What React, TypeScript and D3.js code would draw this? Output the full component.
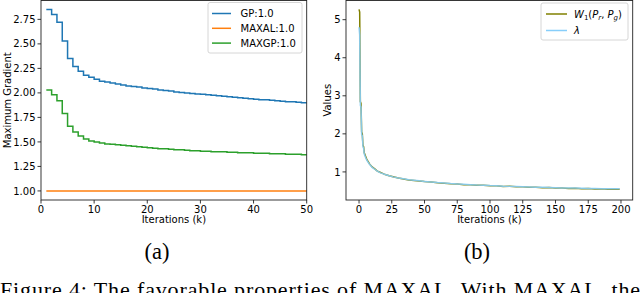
import * as d3 from "d3";

// panel (a): max gradient per k, drawn as steps
const aIters = d3.range(1, 51);
const gpValues = [
  2.85, 2.8, 2.72, 2.53, 2.35, 2.27, 2.22, 2.18, 2.16, 2.14,
  2.12, 2.11, 2.1, 2.09, 2.08, 2.07, 2.065, 2.06, 2.05, 2.045,
  2.04, 2.03, 2.025, 2.02, 2.01, 2.005, 2.0, 1.995, 1.99, 1.985,
  1.98, 1.975, 1.97, 1.965, 1.96, 1.955, 1.95, 1.945, 1.94, 1.935,
  1.93, 1.93, 1.925, 1.92, 1.915, 1.91, 1.91, 1.905, 1.9, 1.9,
];
const maxalValues = aIters.map(() => 1.0);
const maxgpValues = [
  2.03, 1.98, 1.92, 1.79, 1.66, 1.6, 1.56, 1.53, 1.51, 1.5,
  1.49, 1.48, 1.475, 1.47, 1.465, 1.46, 1.455, 1.45, 1.445, 1.44,
  1.435, 1.43, 1.43, 1.425, 1.42, 1.42, 1.415, 1.41, 1.41, 1.405,
  1.405, 1.4, 1.4, 1.4, 1.395, 1.395, 1.39, 1.39, 1.39, 1.385,
  1.385, 1.385, 1.38, 1.38, 1.38, 1.375, 1.375, 1.375, 1.37, 1.37,
];
const aSeries = [
  { name: "GP:1.0", color: "#1f77b4", values: gpValues },
  { name: "MAXAL:1.0", color: "#ff7f0e", values: maxalValues },
  { name: "MAXGP:1.0", color: "#2ca02c", values: maxgpValues },
];
const aXTicks = [0, 10, 20, 30, 40, 50];
const aYTicks = [1.0, 1.25, 1.5, 1.75, 2.0, 2.25, 2.5, 2.75];

// panel (b): W1 estimate and lambda
const bIters = [
  0, 0.5, 1, 1.5, 2, 2.5, 3, 3.5, 4, 5, 6, 7, 8, 10, 12, 14, 16, 18, 20,
  23, 26, 30, 34, 38, 42, 46, 50, 55, 60, 65, 70, 75, 80, 85, 90, 95, 100,
  105, 110, 115, 120, 125, 130, 135, 140, 145, 150, 155, 160, 165, 170,
  175, 180, 185, 190, 195, 199,
];
const w1Values = [
  5.27, 5.2, 2.85, 2.8, 2.05, 2.0, 1.7, 1.66, 1.5, 1.41, 1.32, 1.27, 1.21,
  1.13, 1.08, 1.02, 0.99, 0.96, 0.93, 0.9, 0.875, 0.84, 0.815, 0.79, 0.775,
  0.76, 0.745, 0.735, 0.715, 0.705, 0.69, 0.685, 0.665, 0.665, 0.65, 0.65,
  0.635, 0.635, 0.62, 0.625, 0.61, 0.61, 0.595, 0.6, 0.585, 0.59, 0.575,
  0.58, 0.565, 0.57, 0.56, 0.565, 0.55, 0.555, 0.545, 0.55, 0.545,
];
const lambdaValues = [
  4.8, 4.6, 2.75, 2.7, 1.98, 1.95, 1.66, 1.62, 1.47, 1.38, 1.3, 1.25, 1.2,
  1.12, 1.07, 1.02, 0.98, 0.955, 0.93, 0.9, 0.87, 0.84, 0.82, 0.795, 0.78,
  0.765, 0.75, 0.735, 0.72, 0.71, 0.695, 0.685, 0.675, 0.665, 0.655, 0.65,
  0.64, 0.635, 0.625, 0.62, 0.615, 0.61, 0.605, 0.6, 0.595, 0.59, 0.585,
  0.58, 0.575, 0.575, 0.57, 0.565, 0.565, 0.56, 0.56, 0.555, 0.555,
];
const bXTicks = [0, 25, 50, 75, 100, 125, 150, 175, 200];
const bYTicks = [1, 2, 3, 4, 5];

const FONT = "DejaVu Sans, sans-serif";
const SERIF = "Liberation Serif, Times New Roman, serif";

function Axes({ x, y, xTicks, yTicks, yFmt, ylabel, ylabelX }) {
  const [x0, x1] = x.range();
  const [y0, y1] = y.range();
  return (
    <g fontFamily={FONT} fontSize={10} fill="#000">
      <rect x={x0} y={y1} width={x1 - x0} height={y0 - y1} fill="none" stroke="#222" strokeWidth={0.9} />
      {xTicks.map((t) => (
        <g key={"x" + t}>
          <line x1={x(t)} x2={x(t)} y1={y0} y2={y0 + 3.5} stroke="#222" strokeWidth={0.9} />
          <text x={x(t)} y={y0 + 12.5} textAnchor="middle">{t}</text>
        </g>
      ))}
      {yTicks.map((t) => (
        <g key={"y" + t}>
          <line x1={x0 - 3.5} x2={x0} y1={y(t)} y2={y(t)} stroke="#222" strokeWidth={0.9} />
          <text x={x0 - 5.5} y={y(t) + 3.6} textAnchor="end">{yFmt(t)}</text>
        </g>
      ))}
      <text x={(x0 + x1) / 2} y={y0 + 23} textAnchor="middle">Iterations (k)</text>
      <text
        transform={`translate(${ylabelX},${(y0 + y1) / 2}) rotate(-90)`}
        textAnchor="middle"
      >
        {ylabel}
      </text>
    </g>
  );
}

function PanelA() {
  const x = d3.scaleLinear().domain([0, 50]).range([41, 306.7]);
  const y = d3.scaleLinear().domain([0.9075, 2.9425]).range([200, 0.5]);
  const line = d3
    .line<number>()
    .x((_, i) => x(aIters[i]))
    .y((d) => y(d))
    .curve(d3.curveStepAfter);
  return (
    <g>
      {aSeries.map((s) => (
        <path key={s.name} d={line(s.values) || ""} fill="none" stroke={s.color} strokeWidth={1.5} />
      ))}
      <Axes x={x} y={y} xTicks={aXTicks} yTicks={aYTicks} yFmt={d3.format(".2f")} ylabel="Maximum Gradient" ylabelX={11} />
      <g fontFamily={FONT} fontSize={10}>
        <rect x={208} y={2.5} width={94} height={50.5} rx={2} fill="#fff" fillOpacity={0.8} stroke="#ccc" strokeWidth={0.8} />
        {aSeries.map((s, i) => (
          <g key={s.name}>
            <line x1={212} x2={231} y1={13.5 + i * 14.8} y2={13.5 + i * 14.8} stroke={s.color} strokeWidth={1.5} />
            <text x={240.5} y={17 + i * 14.8}>{s.name}</text>
          </g>
        ))}
      </g>
    </g>
  );
}

function PanelB() {
  const x = d3.scaleLinear().domain([-9.95, 208.95]).range([346, 632.7]);
  const y = d3.scaleLinear().domain([0.262, 5.504]).range([200, 0.5]);
  const line = d3
    .line<number>()
    .x((_, i) => x(bIters[i]))
    .y((d) => y(d));
  return (
    <g>
      <path d={line(w1Values) || ""} fill="none" stroke="#808000" strokeWidth={1.5} />
      <path d={line(lambdaValues) || ""} fill="none" stroke="#87cefa" strokeWidth={1.5} strokeOpacity={0.9} />
      <Axes x={x} y={y} xTicks={bXTicks} yTicks={bYTicks} yFmt={d3.format("d")} ylabel="Values" ylabelX={331} />
      <g fontFamily={FONT} fontSize={10}>
        <rect x={541} y={3} width={87} height={37} rx={2} fill="#fff" fillOpacity={0.8} stroke="#ccc" strokeWidth={0.8} />
        <line x1={546} x2={567} y1={14} y2={14} stroke="#808000" strokeWidth={1.5} />
        <text x={574} y={17.5}>
          <tspan fontStyle="italic">W</tspan>
          <tspan fontSize={7} dy={2}>1</tspan>
          <tspan dy={-2}>(</tspan>
          <tspan fontStyle="italic">P</tspan>
          <tspan fontSize={7} fontStyle="italic" dy={2}>r</tspan>
          <tspan dy={-2}>, </tspan>
          <tspan fontStyle="italic">P</tspan>
          <tspan fontSize={7} fontStyle="italic" dy={2}>g</tspan>
          <tspan dy={-2}>)</tspan>
        </text>
        <line x1={546} x2={567} y1={30.5} y2={30.5} stroke="#87cefa" strokeWidth={1.5} />
        <text x={574} y={34} fontStyle="italic">λ</text>
      </g>
    </g>
  );
}

export default function App() {
  return (
    <svg width={640} height={293} style={{ position: "absolute", left: 0, top: 0, background: "#fff" }}>
      <PanelA />
      <PanelB />
      <g fontFamily={SERIF} fill="#000">
        <text x={157} y={259} textAnchor="middle" fontSize={22.5}>(a)</text>
        <text x={477} y={259} textAnchor="middle" fontSize={22.5}>(b)</text>
        <text x={0} y={297} fontSize={22} textLength={640} lengthAdjust="spacing">
          Figure 4: The favorable properties of MAXAL. With MAXAL, the
        </text>
      </g>
    </svg>
  );
}
